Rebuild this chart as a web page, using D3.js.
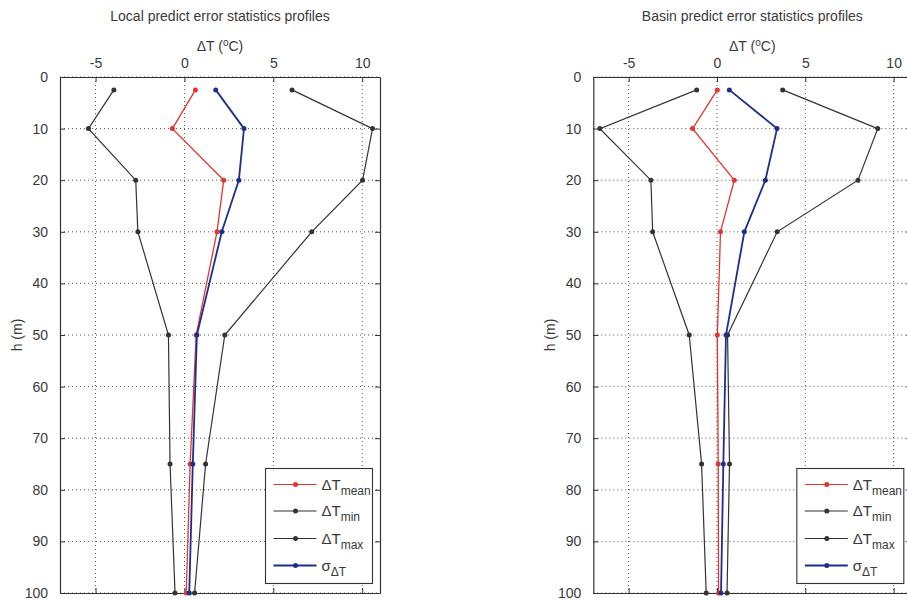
<!DOCTYPE html>
<html>
<head>
<meta charset="utf-8">
<script src="https://cdn.jsdelivr.net/npm/d3@7"></script>
<style>
  html, body { margin: 0; padding: 0; background: #fff; }
  svg { display: block; font-family: "Liberation Sans", Arial, Helvetica, sans-serif; }
</style>
</head>
<body>
<svg id="chart" width="907" height="600"></svg>
<script>
// ---- data ----
const heights = [2.5, 10, 20, 30, 50, 75, 100];

const localMean  = [0.62, -0.68, 2.21, 1.83, 0.66, 0.32, 0.10];
const localMin   = [-3.97, -5.40, -2.74, -2.62, -0.90, -0.81, -0.53];
const localMax   = [6.05, 10.58, 10.02, 7.16, 2.27, 1.19, 0.57];
const localSigma = [1.76, 3.35, 3.06, 2.10, 0.70, 0.47, 0.27];

const basinMean  = [0.02, -1.38, 0.98, 0.20, 0.02, 0.07, 0.09];
const basinMin   = [-1.15, -6.63, -3.74, -3.64, -1.57, -0.87, -0.61];
const basinMax   = [3.72, 9.10, 7.98, 3.41, 0.60, 0.71, 0.57];
const basinSigma = [0.70, 3.40, 2.74, 1.55, 0.51, 0.36, 0.23];

const xTicks = [-5, 0, 5, 10];
const yTicks = [0, 10, 20, 30, 40, 50, 60, 70, 80, 90, 100];
const titles = ["Local predict error statistics profiles", "Basin predict error statistics profiles"];

const colors = { mean: "#e3342f", min: "#333333", max: "#333333", sigma: "#1c2f8c" };

const panels = [
  { title: titles[0], x0: 60, x1: 380, series: { mean: localMean, min: localMin, max: localMax, sigma: localSigma } },
  { title: titles[1], x0: 593.3, x1: 911.3, series: { mean: basinMean, min: basinMin, max: basinMax, sigma: basinSigma } }
];

const svg = d3.select("#chart");
const plotTop = 77, plotBottom = 593;
const textColor = "#3a3a3a";

panels.forEach(p => {
  const x = d3.scaleLinear().domain([-7, 11]).range([p.x0, p.x1]);
  const y = d3.scaleLinear().domain([0, 100]).range([plotTop, plotBottom]);
  const g = svg.append("g");
  const cx = (p.x0 + p.x1) / 2;

  // grid
  g.append("g").selectAll("line").data(xTicks).join("line")
    .attr("x1", d => x(d)).attr("x2", d => x(d)).attr("y1", plotTop).attr("y2", plotBottom)
    .attr("stroke", "#555").attr("stroke-width", 1).attr("stroke-dasharray", "1,3");
  g.append("g").selectAll("line").data(yTicks).join("line")
    .attr("y1", d => y(d)).attr("y2", d => y(d)).attr("x1", p.x0).attr("x2", p.x1)
    .attr("stroke", "#555").attr("stroke-width", 1).attr("stroke-dasharray", "1,3");

  // axes with inward ticks
  const fmt = d => String(d);
  const axTop = d3.axisTop(x).tickValues(xTicks).tickSizeInner(-5).tickSizeOuter(0).tickPadding(9).tickFormat(fmt);
  const axBottom = d3.axisBottom(x).tickValues(xTicks).tickSizeInner(-5).tickSizeOuter(0).tickFormat("");
  const axLeft = d3.axisLeft(y).tickValues(yTicks).tickSizeInner(-5).tickSizeOuter(0).tickPadding(12).tickFormat(fmt);
  const axRight = d3.axisRight(y).tickValues(yTicks).tickSizeInner(-5).tickSizeOuter(0).tickFormat("");

  const style = sel => {
    sel.select(".domain").attr("stroke", "#333").attr("stroke-width", 1.2);
    sel.selectAll(".tick line").attr("stroke", "#333").attr("stroke-width", 1);
    sel.selectAll(".tick text").attr("fill", textColor).style("font-size", "14px");
    sel.attr("font-family", null).attr("font-size", null);
  };
  g.append("g").attr("transform", `translate(0,${plotTop})`).call(axTop).call(style);
  g.append("g").attr("transform", `translate(0,${plotBottom})`).call(axBottom).call(style);
  g.append("g").attr("transform", `translate(${p.x0},0)`).call(axLeft).call(style);
  g.append("g").attr("transform", `translate(${p.x1},0)`).call(axRight).call(style);

  // titles
  g.append("text").attr("x", cx).attr("y", 21).attr("text-anchor", "middle")
    .attr("fill", textColor).style("font-size", "14px").text(p.title);
  const xl = g.append("text").attr("x", cx).attr("y", 51).attr("text-anchor", "middle")
    .attr("fill", textColor).style("font-size", "14px");
  xl.append("tspan").text("ΔT (");
  xl.append("tspan").attr("dy", -5).style("font-size", "10px").text("o");
  xl.append("tspan").attr("dy", 5).text("C)");

  g.append("text").attr("transform", `translate(${p.x0 - 38},${(plotTop + plotBottom) / 2}) rotate(-90)`)
    .attr("text-anchor", "middle").attr("fill", textColor).style("font-size", "14px").text("h (m)");

  // series
  const order = ["min", "max", "mean", "sigma"];
  const line = d3.line().x(d => x(d[0])).y(d => y(d[1]));
  order.forEach(k => {
    const pts = p.series[k].map((v, i) => [v, heights[i]]);
    const sw = k === "sigma" ? 1.8 : (k === "mean" ? 1.3 : 1.2);
    g.append("path").datum(pts).attr("d", line).attr("fill", "none")
      .attr("stroke", colors[k]).attr("stroke-width", sw);
    g.append("g").selectAll("circle").data(pts).join("circle")
      .attr("cx", d => x(d[0])).attr("cy", d => y(d[1])).attr("r", 2.5).attr("fill", colors[k]);
  });

  // legend
  const lx1 = p.x1 - 7.5, lx0 = lx1 - 107, ly0 = 468.5, ly1 = 583.5;
  const lg = g.append("g");
  lg.append("rect").attr("x", lx0).attr("y", ly0).attr("width", lx1 - lx0).attr("height", ly1 - ly0)
    .attr("fill", "#fff").attr("stroke", "#333").attr("stroke-width", 1.1);
  const entries = [
    { k: "mean", sub: "mean", sym: "ΔT" },
    { k: "min", sub: "min", sym: "ΔT" },
    { k: "max", sub: "max", sym: "ΔT" },
    { k: "sigma", sub: "ΔT", sym: "σ" }
  ];
  const ey = [484.5, 511, 538.5, 565.5];
  entries.forEach((e, i) => {
    const yy = ey[i];
    lg.append("line").attr("x1", lx0 + 8).attr("x2", lx0 + 51).attr("y1", yy).attr("y2", yy)
      .attr("stroke", colors[e.k]).attr("stroke-width", e.k === "sigma" ? 1.8 : 1.2);
    lg.append("circle").attr("cx", lx0 + 30).attr("cy", yy).attr("r", 2.5).attr("fill", colors[e.k]);
    const t = lg.append("text").attr("x", lx0 + 56).attr("y", yy + 5).attr("fill", textColor).style("font-size", "15px");
    t.append("tspan").text(e.sym);
    t.append("tspan").attr("dy", 5).style("font-size", "12px").text(e.sub);
  });
});
</script>
</body>
</html>
